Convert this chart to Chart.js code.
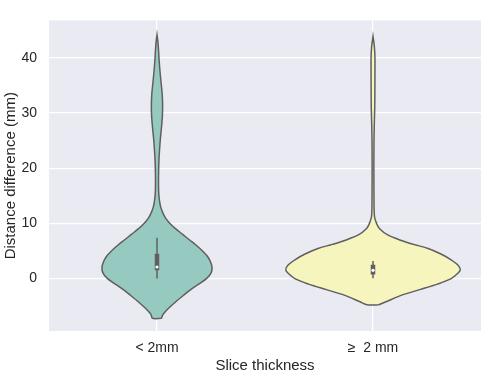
<!DOCTYPE html>
<html>
<head>
<meta charset="utf-8">
<script src="https://cdn.jsdelivr.net/npm/chart.js@4"></script>
<style>
  html, body { margin: 0; padding: 0; background: #fff; }
  #wrap { width: 485px; height: 373px; }
</style>
</head>
<body>
<div id="wrap"><canvas id="myChart" width="485" height="373"></canvas></div>
<script>
// categories on the x axis
const categories = ['< 2mm', '\u2265  2 mm'];
const yTicks = [0, 10, 20, 30, 40];

// violin outlines: y value -> half width (in category units)
const leftY = [-7.2, -6.5, -5.5, -4.2, -3.0, -2.0, -1.0, 0.0, 1.0, 2.0, 3.0, 4.0, 5.0, 6.0, 7.0, 8.0, 9.0, 10.0, 11.0, 12.0, 13.0, 14.0, 15.5, 17.5, 19.5, 21.5, 23.5, 25.5, 27.5, 29.5, 31.5, 33.5, 35.5, 37.5, 39.5, 41.5, 43, 44.2];
const leftW = [0.021, 0.028, 0.05, 0.087, 0.124, 0.156, 0.193, 0.229, 0.25, 0.255, 0.248, 0.234, 0.211, 0.183, 0.151, 0.119, 0.087, 0.06, 0.039, 0.026, 0.017, 0.012, 0.008, 0.007, 0.0075, 0.009, 0.012, 0.016, 0.021, 0.025, 0.026, 0.024, 0.019, 0.014, 0.01, 0.007, 0.004, 0];

const rightY = [-4.75, -4.2, -3.0, -2.0, -1.0, 0.0, 1.0, 1.6, 2.5, 3.5, 4.5, 5.5, 6.2, 7.0, 8.0, 9.0, 9.7, 11, 12, 14, 20, 25, 28, 31, 34, 38, 40, 42, 43.9];
const rightW = [0.027, 0.06, 0.133, 0.216, 0.298, 0.362, 0.394, 0.404, 0.392, 0.358, 0.312, 0.252, 0.188, 0.124, 0.064, 0.032, 0.02, 0.008, 0.0055, 0.0046, 0.004, 0.0046, 0.006, 0.008, 0.0087, 0.009, 0.009, 0.0064, 0];

// inner box stats
const whiskLo = [0, 0.05];
const whiskHi = [7.4, 3.2];
const q1 = [1.5, 0.75];
const q3 = [4.5, 2.5];
const medians = [2.1, 1.5];

const fills = ['#96cac0', '#f5f5bd'];
const edge = '#5f5f5f';

function outline(c, ys, ws) {
  const pts = [];
  for (let i = 0; i < ys.length; i++) pts.push({x: c + ws[i], y: ys[i]});
  for (let i = ys.length - 1; i >= 0; i--) pts.push({x: c - ws[i], y: ys[i]});
  pts.push({x: c + ws[0], y: ys[0]});
  return pts;
}

const violins = [[leftY, leftW], [rightY, rightW]];
const datasets = [];
violins.forEach((v, i) => {
  datasets.push({
    data: outline(i, v[0], v[1]), order: 5,
    borderColor: edge, borderWidth: 1.5, backgroundColor: fills[i],
    fill: 'shape', pointRadius: 0, tension: 0.3
  });
});
categories.forEach((c, i) => {
  datasets.push({
    data: [{x: i, y: whiskLo[i]}, {x: i, y: whiskHi[i]}], order: 3,
    borderColor: edge, borderWidth: 1.5, pointRadius: 0, fill: false
  });
  datasets.push({
    data: [{x: i, y: q1[i]}, {x: i, y: q3[i]}], order: 2,
    borderColor: edge, borderWidth: 4.5, pointRadius: 0, fill: false
  });
  datasets.push({
    data: [{x: i, y: medians[i]}], order: 1,
    showLine: false, pointRadius: 1.6, pointBackgroundColor: '#ffffff',
    pointBorderWidth: 0, fill: false
  });
});

const bgPlugin = {
  id: 'bg',
  beforeDraw(chart) {
    const a = chart.chartArea, c = chart.ctx;
    c.save();
    c.fillStyle = '#eaeaf2';
    c.fillRect(a.left, a.top, a.right - a.left, a.bottom - a.top);
    c.restore();
  }
};

const family = "'Liberation Sans', Arial, sans-serif";
const tickFont = {family, size: 14};
const titleFont = {family, size: 15};

new Chart(document.getElementById('myChart').getContext('2d'), {
  type: 'line',
  data: {datasets},
  plugins: [bgPlugin],
  options: {
    responsive: false,
    animation: false,
    devicePixelRatio: 1,
    layout: {padding: {top: 6, right: 0, left: 0, bottom: 0}},
    plugins: {legend: {display: false}, tooltip: {enabled: false}},
    scales: {
      x: {
        type: 'linear', min: -0.5, max: 1.5,
        afterBuildTicks: s => { s.ticks = [{value: 0}, {value: 1}]; },
        afterFit: s => { s.height = 42; },
        grid: {color: '#ffffff', lineWidth: 1.2, drawTicks: false},
        border: {display: false},
        ticks: {color: '#262626', font: tickFont, padding: 9, callback: v => categories[v]},
        title: {display: true, text: 'Slice thickness', color: '#262626', font: titleFont, padding: {top: 0, bottom: -2}}
      },
      y: {
        min: -9.5, max: 46.8,
        afterBuildTicks: s => { s.ticks = yTicks.map(v => ({value: v})); },
        afterFit: s => { s.width = 49; },
        grid: {color: '#ffffff', lineWidth: 1.2, drawTicks: false},
        border: {display: false},
        ticks: {color: '#262626', font: tickFont, padding: 12},
        title: {display: true, text: 'Distance difference (mm)', color: '#262626', font: titleFont, padding: 2}
      }
    }
  }
});
</script>
</body>
</html>
